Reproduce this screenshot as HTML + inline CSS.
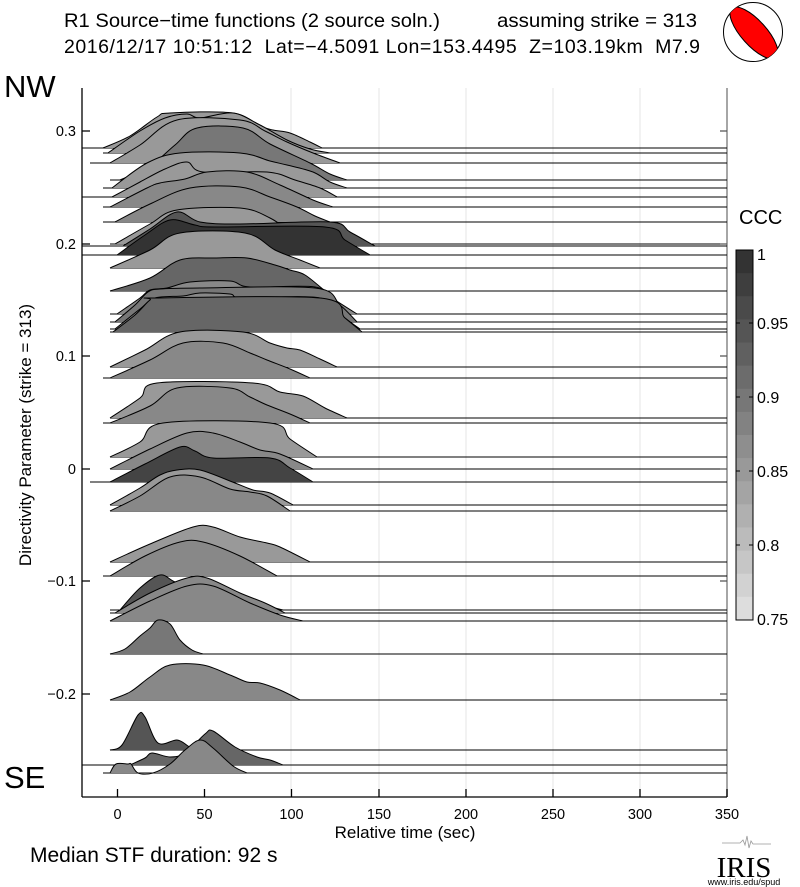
<!DOCTYPE html>
<html><head><meta charset="utf-8"><style>
html,body{margin:0;padding:0;background:#fff;}
svg{display:block;font-family:"Liberation Sans",sans-serif;}
</style></head><body>
<svg width="800" height="887" viewBox="0 0 800 887" xmlns="http://www.w3.org/2000/svg">
<rect width="800" height="887" fill="#fff"/>
<!-- titles -->
<text x="64" y="27" font-size="19.5" textLength="376" lengthAdjust="spacingAndGlyphs">R1 Source−time functions (2 source soln.)</text>
<text x="497" y="27" font-size="19.5" textLength="200" lengthAdjust="spacingAndGlyphs">assuming strike = 313</text>
<text x="64" y="53" font-size="19.5" textLength="636" lengthAdjust="spacing" xml:space="preserve">2016/12/17 10:51:12  Lat=−4.5091 Lon=153.4495  Z=103.19km  M7.9</text>
<text x="4" y="97" font-size="31">NW</text>
<text x="4" y="788" font-size="31">SE</text>
<!-- beachball -->
<defs><clipPath id="bb"><circle cx="753" cy="32" r="29.5"/></clipPath></defs>
<circle cx="753" cy="32" r="29.5" fill="#fff" stroke="#000" stroke-width="1"/>
<g clip-path="url(#bb)"><ellipse cx="754" cy="33" rx="33" ry="12.5" transform="rotate(48 754 33)" fill="#f00" stroke="#000" stroke-width="1"/></g>
<!-- grid -->
<g stroke="#e6e6e6" stroke-width="1">
<line x1="291" y1="88" x2="291" y2="797"/><line x1="379" y1="88" x2="379" y2="797"/>
<line x1="466" y1="88" x2="466" y2="797"/><line x1="553" y1="88" x2="553" y2="797"/>
<line x1="640" y1="88" x2="640" y2="797"/>
</g>
<line x1="727" y1="88" x2="727" y2="797" stroke="#888" stroke-width="1.5"/>
<!-- traces -->
<g stroke-width="1" stroke-linejoin="round">
<g id="traces"></g>
</g>
<!-- axes -->
<g stroke="#000" stroke-width="1.3" fill="none">
<line x1="82" y1="88" x2="82" y2="797"/><line x1="82" y1="797" x2="727" y2="797"/>
<path d="M117.5 797v-8M204.5 797v-8M291.5 797v-8M379 797v-8M466 797v-8M553 797v-8M640 797v-8M727 797v-8"/>
<path d="M82 131h8M82 244h8M82 356h8M82 469h8M82 581h8M82 694h8"/>
<path d="M720 131h7M720 244h7M720 356h7M720 469h7M720 581h7M720 694h7" stroke="#555"/>
</g>
<g font-size="14.5" text-anchor="end">
<text x="76" y="136">0.3</text><text x="76" y="249">0.2</text><text x="76" y="361">0.1</text>
<text x="76" y="474">0</text><text x="76" y="586">−0.1</text><text x="76" y="699">−0.2</text>
</g>
<g font-size="14.5" text-anchor="middle">
<text x="117.5" y="819">0</text><text x="204.5" y="819">50</text><text x="291.5" y="819">100</text>
<text x="379" y="819">150</text><text x="466" y="819">200</text><text x="553" y="819">250</text>
<text x="640" y="819">300</text><text x="727" y="819">350</text>
<text x="405" y="838" font-size="17">Relative time (sec)</text>
</g>
<text transform="translate(31 435) rotate(-90)" font-size="17" text-anchor="middle">Directivity Parameter (strike = 313)</text>
<text x="30" y="862" font-size="21">Median STF duration: 92 s</text>
<!-- colorbar -->
<text x="739" y="224" font-size="20">CCC</text>
<g id="cb"></g>
<rect x="736" y="250" width="17" height="370" fill="none" stroke="#000" stroke-width="1"/>
<g stroke="#000"><path d="M736 323h4M749 323h4M736 397h4M749 397h4M736 471h4M749 471h4M736 545h4M749 545h4"/></g>
<g font-size="16"><text x="757" y="260">1</text><text x="757" y="329">0.95</text><text x="757" y="403">0.9</text>
<text x="757" y="477">0.85</text><text x="757" y="551">0.8</text><text x="757" y="625">0.75</text></g>
<!-- IRIS logo -->
<path d="M722 843 h18 l3 -3 l2 5 l2 -9 l2 12 l2 -7 l2 3 h18" stroke="#999" fill="none" stroke-width="0.8"/>
<text x="744" y="877" font-size="29" font-family="Liberation Serif, serif" text-anchor="middle">IRIS</text>
<text x="744" y="885" font-size="9" text-anchor="middle">www.iris.edu/spud</text>
</svg>
<script>
var T=[
[148,82,"#999",[[103,0],[130,12],[157,31],[170,35],[233,35],[260,22],[273,18],[290,15],[310,6],[322,0]]],
[153,103,"#999",[[108,0],[140,22],[165,35],[187,39],[200,35],[233,40],[260,28],[287,13],[310,4],[330,0]]],
[163,90,"#999",[[110,0],[140,18],[177,43],[240,43],[265,32],[287,21],[313,10],[340,0]]],
[180,110,"#777",[[120,0],[150,14],[175,35],[197,52],[243,52],[270,36],[310,17],[330,6],[347,0]]],
[188,103,"#999",[[112,0],[147,25],[180,35],[240,35],[270,27],[287,23],[313,16],[330,6],[347,0]]],
[197,82,"#999",[[112,0],[140,15],[165,28],[187,35],[203,25],[267,25],[295,17],[320,9],[337,0]]],
[207,103,"#888",[[110,0],[147,19],[160,24],[185,28],[207,35],[247,35],[280,22],[313,7],[333,0]]],
[222,103,"#888",[[115,0],[150,18],[190,34],[240,35],[270,25],[297,15],[315,6],[330,0]]],
[244,110,"#999",[[115,0],[150,20],[177,34],[240,36],[270,26],[290,12],[305,0]]],
[246,82,"#555",[[123,0],[150,17],[177,34],[200,24],[240,22],[330,24],[350,14],[375,0]]],
[255,82,"#333",[[117,0],[145,20],[170,35],[195,30],[215,28],[325,28],[345,15],[370,0]]],
[268,110,"#999",[[110,0],[150,18],[180,35],[245,35],[275,18],[300,8],[320,0]]],
[291,110,"#666",[[110,0],[150,13],[180,31],[215,33],[247,33],[275,26],[290,21],[305,16],[325,0]]],
[314,110,"#888",[[117,0],[140,16],[150,24],[167,26],[190,32],[230,33],[250,27],[315,27],[335,14],[357,0]]],
[322,110,"#777",[[115,0],[135,17],[148,30],[160,33],[200,34],[315,34],[340,17],[357,0]]],
[329,110,"#888",[[115,0],[140,20],[155,31],[183,33],[200,36],[230,35],[243,31],[320,31],[345,11],[360,0]]],
[332,110,"#666",[[113,0],[135,17],[150,32],[158,34],[320,34],[345,14],[362,0]]],
[367,110,"#999",[[110,0],[145,17],[180,35],[243,35],[270,24],[287,19],[300,17],[320,8],[337,0]]],
[378,103,"#888",[[110,0],[150,18],[183,35],[223,35],[250,25],[267,18],[290,9],[310,0]]],
[418,110,"#999",[[110,0],[140,20],[157,35],[253,35],[280,26],[303,22],[325,10],[347,0]]],
[423,103,"#888",[[110,0],[150,17],[177,35],[230,35],[250,26],[267,18],[290,9],[310,0]]],
[457,110,"#999",[[110,0],[140,15],[163,34],[270,34],[290,18],[317,0]]],
[469,110,"#888",[[110,0],[150,20],[187,36],[213,36],[240,27],[260,19],[280,15],[313,0]]],
[482,90,"#444",[[110,0],[145,18],[180,35],[195,31],[213,24],[270,24],[290,14],[313,0]]],
[505,110,"#999",[[110,0],[140,17],[160,30],[177,35],[200,35],[235,22],[253,15],[270,12],[293,0]]],
[511,110,"#888",[[110,0],[140,15],[170,34],[200,34],[230,22],[250,19],[267,15],[290,0]]],
[562,110,"#999",[[110,0],[150,18],[193,35],[213,35],[240,25],[267,19],[280,15],[310,0]]],
[576,103,"#888",[[110,0],[145,20],[180,34],[203,34],[240,20],[277,0]]],
[610,110,"#555",[[120,0],[140,22],[160,35],[175,28],[200,18],[250,8],[283,0]]],
[613,110,"#888",[[115,0],[150,20],[187,35],[207,35],[240,20],[265,10],[285,0]]],
[621,110,"#888",[[110,0],[150,20],[187,35],[213,35],[250,18],[280,6],[303,0]]],
[654,110,"#777",[[110,0],[125,5],[140,18],[150,26],[158,34],[170,30],[180,14],[192,4],[203,0]]],
[700,110,"#888",[[110,0],[130,8],[150,23],[170,35],[203,35],[230,25],[247,18],[260,17],[280,10],[300,0]]],
[750,110,"#555",[[110,0],[122,5],[138,35],[145,33],[158,7],[177,10],[188,4],[195,0]]],
[765,82,"#666",[[130,0],[145,7],[152,12],[170,8],[185,12],[205,31],[213,34],[235,18],[257,8],[270,5],[283,0]]],
[773,103,"#888",[[110,0],[116,9],[128,9],[131,9],[138,0],[153,0],[170,9],[185,23],[200,33],[213,25],[233,7],[247,0]]]
];
function smooth(P){
 var d="M"+P[0][0]+","+P[0][1];
 for(var i=0;i<P.length-1;i++){
  var p0=P[i-1]||P[i],p1=P[i],p2=P[i+1],p3=P[i+2]||P[i+1],k=1/6;
  var c1x=p1[0]+(p2[0]-p0[0])*k,c1y=p1[1]+(p2[1]-p0[1])*k;
  var c2x=p2[0]-(p3[0]-p1[0])*k,c2y=p2[1]-(p3[1]-p1[1])*k;
  d+=" C"+c1x.toFixed(1)+","+c1y.toFixed(1)+" "+c2x.toFixed(1)+","+c2y.toFixed(1)+" "+p2[0]+","+p2[1];
 }
 return d;
}
var g=document.getElementById("traces"),h="";
T.forEach(function(t){
 var b=t[0],P=t[3].map(function(q){return [q[0],b-q[1]];});
 var d=smooth(P);
 h+='<line x1="'+t[1]+'" y1="'+b+'" x2="727" y2="'+b+'" stroke="#000"/>';
 h+='<path d="'+d+' Z" fill="'+t[2]+'" stroke="none"/>';
 h+='<path d="'+d+'" fill="none" stroke="#000"/>';
});
g.innerHTML=h;
var cb=document.getElementById("cb"),s="",n=16;
for(var i=0;i<n;i++){var v=Math.round(0x33+(0xdd-0x33)*i/(n-1));var c="rgb("+v+","+v+","+v+")";
 s+='<rect x="736" y="'+(250+370*i/n)+'" width="17" height="'+(370/n+0.5)+'" fill="'+c+'"/>';}
cb.innerHTML=s;
</script>
</body></html>
